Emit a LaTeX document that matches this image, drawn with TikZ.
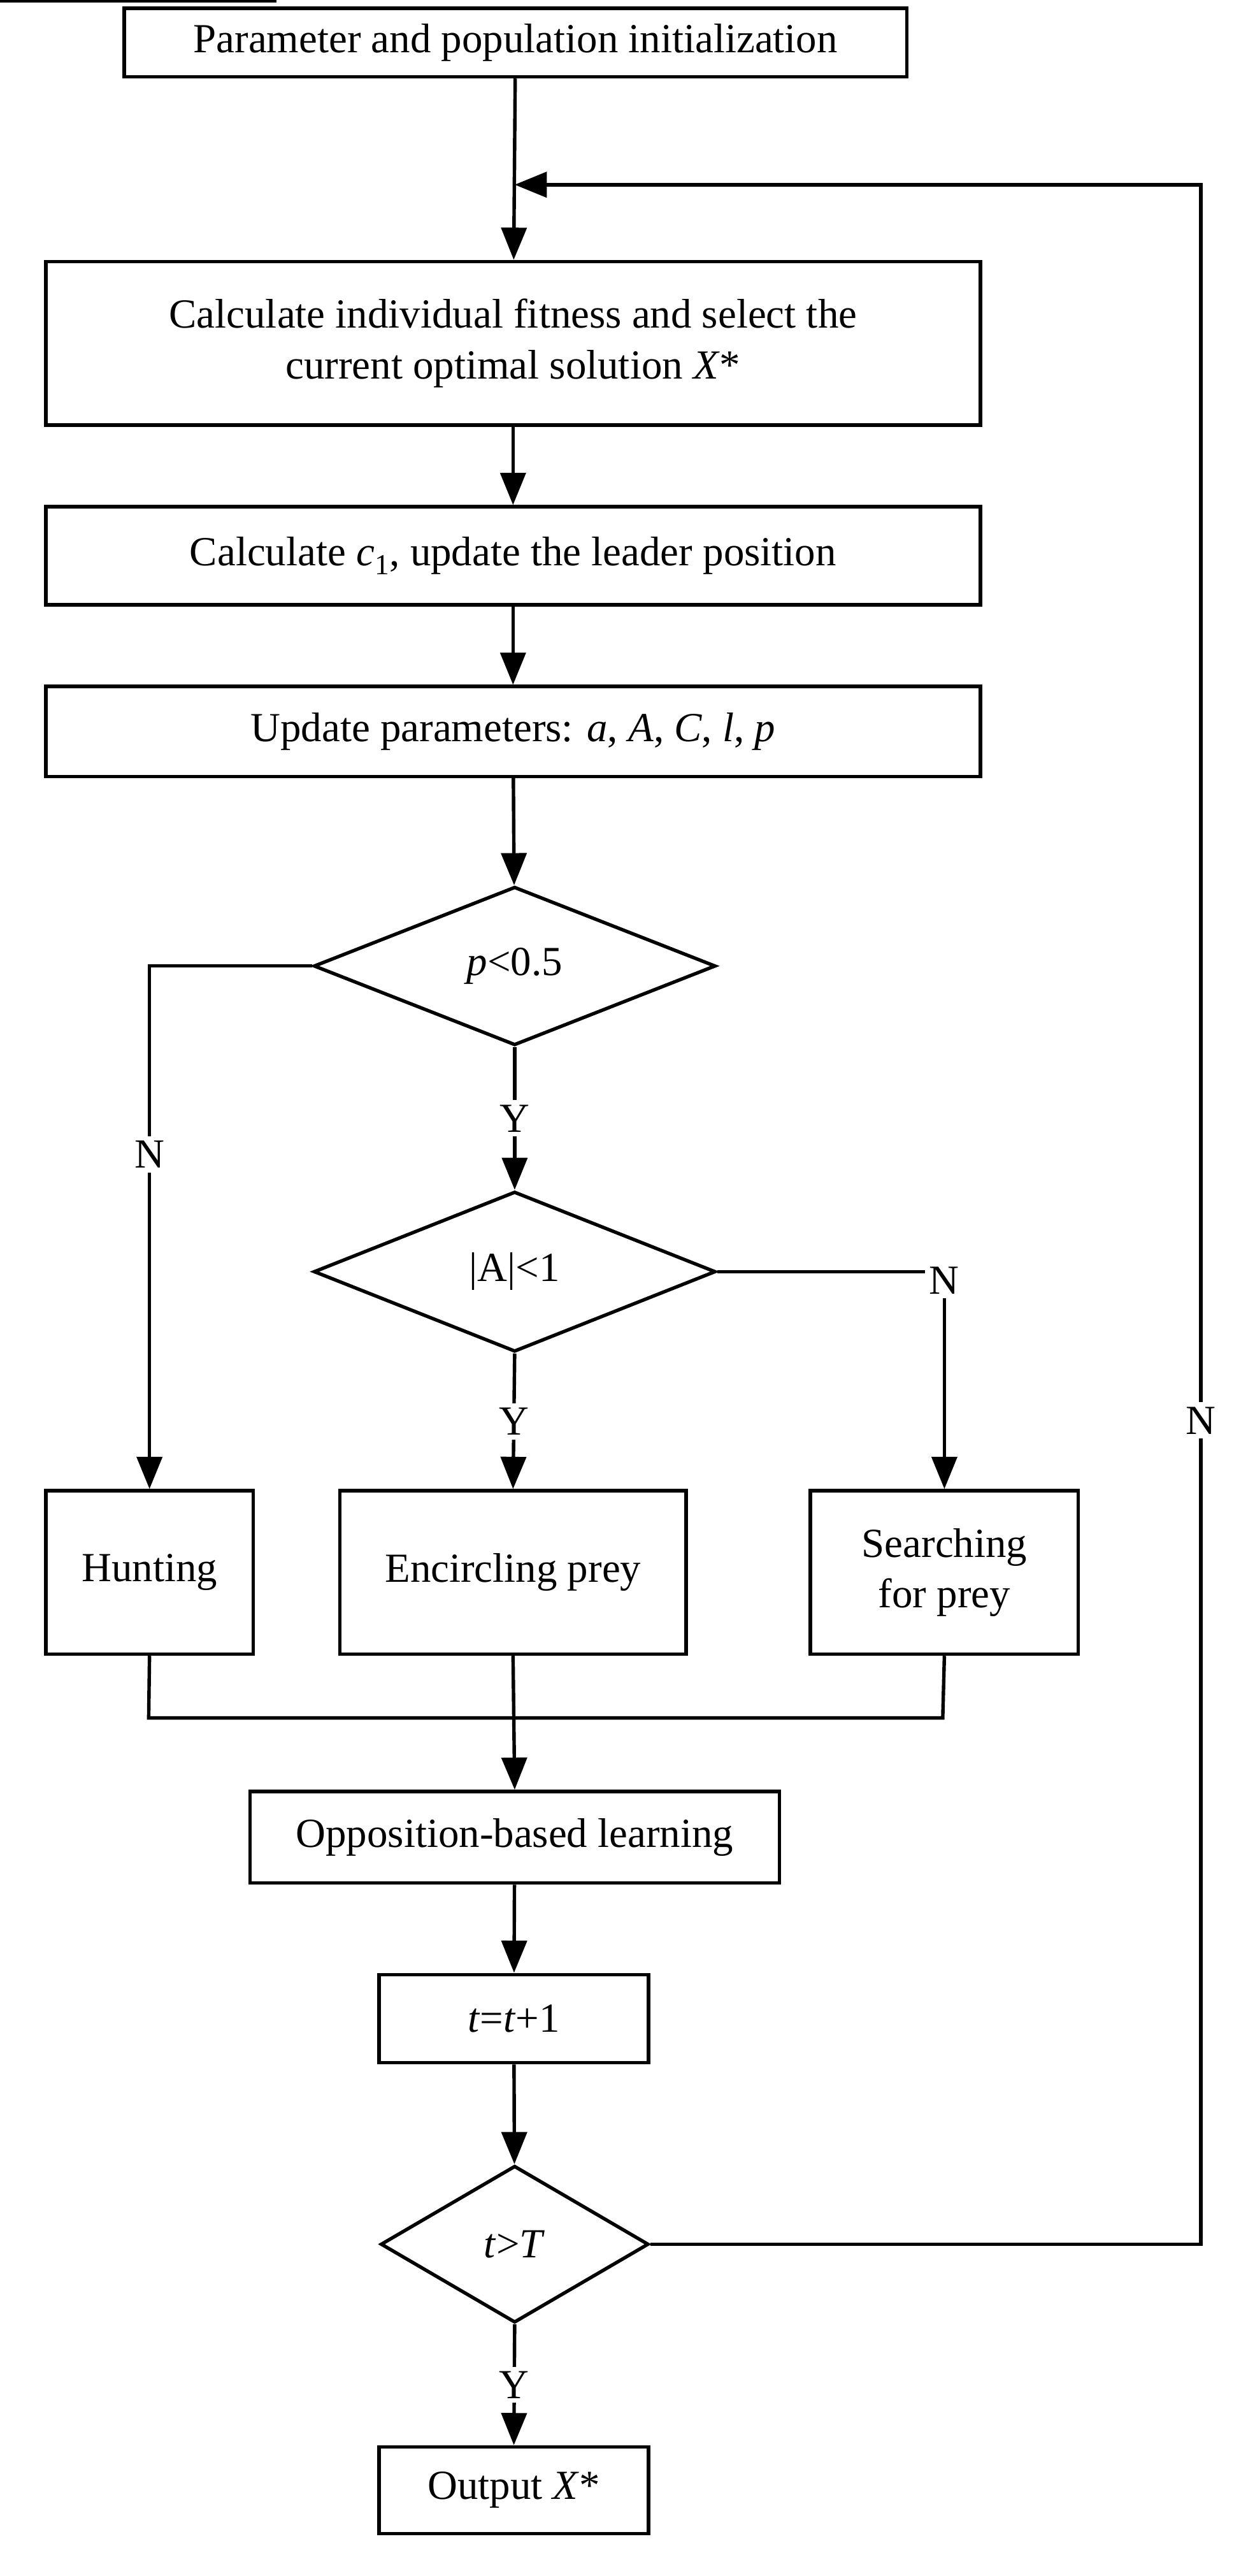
\documentclass[tikz,border=0pt]{standalone}
\usepackage{fontspec}
\setmainfont{Liberation Serif}
\usetikzlibrary{shapes.geometric,arrows.meta}
\begin{document}
\begin{tikzpicture}[x=0.05cm,y=-0.05cm,
  every node/.style={font=\fontsize{36}{44}\selectfont},
  box/.style={draw,line width=3pt,inner sep=0pt,align=center},
  lbl/.style={fill=white,inner sep=4pt},
  ln/.style={line width=3pt},
  ar/.style={line width=3pt,-{Triangle[length=28pt,width=22pt]}}]
\useasboundingbox (0,0) rectangle (768,1576);
\node[box,minimum width=479\pgflinewidth/3,text width=0] at (0,0) {}; % placeholder invisible
\node[box,minimum width=23.95cm,minimum height=2.1cm] (b1) at (315.5,26) {Parameter and population initialization};
\node[box,minimum width=28.6cm,minimum height=5cm] (b2) at (314,210) {Calculate individual fitness and select the\\current optimal solution \textit{X}*};
\node[box,minimum width=28.6cm,minimum height=3cm] (b3) at (314,340) {Calculate \textit{c}\textsubscript{1}, update the leader position};
\node[box,minimum width=28.6cm,minimum height=2.75cm] (b4) at (314,447.5) {Update parameters: \textit{a}, \textit{A}, \textit{C}, \textit{l}, \textit{p}};
\node[diamond,draw,line width=3pt,aspect=2.55,minimum width=12.3cm,minimum height=4.85cm,inner sep=0pt] (d1) at (315,591) {\textit{p}<0.5};
\node[diamond,draw,line width=3pt,aspect=2.55,minimum width=12.3cm,minimum height=4.9cm,inner sep=0pt] (d2) at (315,778) {|A|<1};
\node[box,minimum width=6.35cm,minimum height=5cm] (h) at (91.5,962) {Hunting};
\node[box,minimum width=10.6cm,minimum height=5cm] (e) at (314,962) {Encircling prey};
\node[box,minimum width=8.2cm,minimum height=5cm] (s) at (578,962) {Searching\\for prey};
\node[box,minimum width=16.2cm,minimum height=2.8cm] (o) at (315,1124) {Opposition-based learning};
\node[box,minimum width=8.25cm,minimum height=2.7cm] (t) at (314.5,1235) {\textit{t}=\textit{t}+1};
\node[diamond,draw,line width=3pt,aspect=1.7,minimum width=8.2cm,minimum height=4.8cm,inner sep=0pt] (d3) at (315,1373) {\textit{t}>\textit{T}};
\node[box,minimum width=8.25cm,minimum height=2.65cm] (out) at (314.5,1523.5) {Output \textit{X}*};
\coordinate (m) at (315,113);
\coordinate (jl) at (91,1051);
\coordinate (jr) at (577,1051);
\coordinate (je) at (315,1051);
\draw[ar] (b1) -- (b2);
\draw[ar] (b2) -- (b3);
\draw[ar] (b3) -- (b4);
\draw[ar] (b4) -- (d1);
\draw[ar] (d1.west) -| node[lbl,pos=0.68]{N} (h.north);
\draw[ar] (d1.south) -- node[lbl,pos=0.5]{Y} (d2.north);
\draw[ar] (d2.east) -| node[lbl,pos=0.52]{N} (s.north);
\draw[ar] (d2.south) -- node[lbl,pos=0.5]{Y} (e.north);
\draw[ln] (h.south) -- (jl) -- (jr) -- (s.south);
\draw[ar] (e.south) -- (o.north);
\draw[ar] (o) -- (t);
\draw[ar] (t) -- (d3);
\draw[ar] (d3.south) -- node[lbl,pos=0.5]{Y} (out.north);
\draw[ar] (d3.east) -| node[lbl,pos=0.7]{N} (735,113) -- (m);
\end{tikzpicture}
\end{document}
